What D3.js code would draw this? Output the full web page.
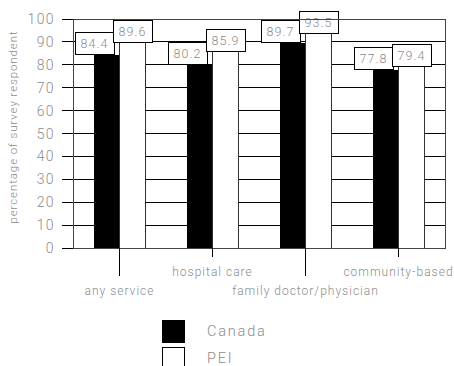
<!DOCTYPE html>
<html>
<head>
<meta charset="utf-8">
<script src="https://cdn.jsdelivr.net/npm/d3@7"></script>
<style>
  html, body { margin: 0; padding: 0; background: #fff; }
  svg { display: block; }
  text { font-family: "Roboto", "Liberation Sans", Arial, sans-serif; font-weight: 300; fill: #8c8c8c; }
</style>
</head>
<body>
<script>
// Categories and series values (percent of survey respondents)
const categories = ["any service", "hospital care", "family doctor/physician", "community-based"];
const seriesNames = ["Canada", "PEI"];
const canada = [84.4, 80.2, 89.7, 77.8];
const pei = [89.6, 85.9, 93.5, 79.4];
const yTicks = [0, 10, 20, 30, 40, 50, 60, 70, 80, 90, 100];

const W = 454, H = 366;
const m = { left: 73, right: 9, top: 19, bottom: 118 };
const iw = W - m.left - m.right, ih = H - m.top - m.bottom;

const svg = d3.select("body").append("svg").attr("width", W).attr("height", H);
const g = svg.append("g").attr("transform", `translate(${m.left},${m.top})`);

const x = d3.scaleBand().domain(categories).range([0, iw]).padding(0);
const barW = 26;
const xs = d3.scaleBand().domain(seriesNames).range([-barW, barW]);
const y = d3.scaleLinear().domain([0, 100]).range([ih, 0]);

const rows = categories.map((c, i) => ({ cat: c, values: [
  { s: "Canada", v: canada[i] }, { s: "PEI", v: pei[i] }
]}));

// horizontal gridlines with ticks extending left of the frame
g.append("g").selectAll("line").data(yTicks).join("line")
  .attr("x1", -11).attr("x2", iw)
  .attr("y1", d => y(d)).attr("y2", d => y(d))
  .attr("stroke", "#000").attr("stroke-width", 1).attr("shape-rendering", "crispEdges");

// y tick labels
g.append("g").selectAll("text").data(yTicks).join("text")
  .attr("x", -18).attr("y", d => y(d)).attr("dy", "0.36em")
  .attr("text-anchor", "end").attr("font-size", 14).attr("letter-spacing", 1.4)
  .text(d => d);

// bars
const grp = g.append("g").selectAll("g").data(rows).join("g")
  .attr("transform", d => `translate(${x(d.cat) + x.bandwidth() / 2},0)`);
grp.selectAll("rect").data(d => d.values).join("rect")
  .attr("x", d => xs(d.s)).attr("width", barW)
  .attr("y", d => y(d.v)).attr("height", d => ih - y(d.v))
  .attr("fill", d => d.s === "Canada" ? "#000" : "#fff")
  .attr("stroke", d => d.s === "Canada" ? "none" : "#333")
  .attr("stroke-width", 1).attr("shape-rendering", "crispEdges");

// frame
g.append("rect").attr("x", 0).attr("y", 0).attr("width", iw).attr("height", ih)
  .attr("fill", "none").attr("stroke", "#444").attr("stroke-width", 1)
  .attr("shape-rendering", "crispEdges");

// category ticks (staggered) and labels
const tickLen = i => i % 2 === 0 ? 28 : 9;
g.append("g").selectAll("line").data(categories).join("line")
  .attr("x1", d => x(d) + x.bandwidth() / 2).attr("x2", d => x(d) + x.bandwidth() / 2)
  .attr("y1", ih).attr("y2", (d, i) => ih + tickLen(i))
  .attr("stroke", "#000").attr("shape-rendering", "crispEdges");
g.append("g").selectAll("text").data(categories).join("text")
  .attr("x", d => x(d) + x.bandwidth() / 2)
  .attr("y", (d, i) => ih + (i % 2 === 0 ? 43 : 24)).attr("dy", "0.36em")
  .attr("text-anchor", "middle").attr("font-size", 12).attr("letter-spacing", 1.0)
  .text(d => d);

// value label boxes
const boxW = 39, boxH = 22, nudge = -12;
const lab = grp.selectAll("g.lab").data(d => d.values).join("g").attr("class", "lab")
  .attr("transform", d => {
    const cx = xs(d.s) + barW / 2 + (d.s === "Canada" ? nudge : 0);
    return `translate(${cx},${y(d.v) - boxH / 2})`;
  });
lab.append("rect").attr("x", -boxW / 2).attr("y", -boxH / 2)
  .attr("width", boxW).attr("height", boxH)
  .attr("fill", "#fff").attr("stroke", "#000").attr("stroke-width", 1)
  .attr("shape-rendering", "crispEdges");
lab.append("text").attr("text-anchor", "middle").attr("dy", "0.36em")
  .attr("font-size", 12.5).attr("letter-spacing", 1)
  .text(d => d.v.toFixed(1));

// y axis title
svg.append("text")
  .attr("transform", `translate(13,${m.top + 108}) rotate(-90)`)
  .attr("text-anchor", "middle").attr("dy", "0.36em")
  .attr("font-size", 11.5).attr("letter-spacing", 0.9)
  .text("percentage of survey respondent");

// legend
const leg = svg.append("g").attr("transform", "translate(162,320)");
const li = leg.selectAll("g").data(seriesNames).join("g")
  .attr("transform", (d, i) => `translate(0,${i * 27})`);
li.append("rect").attr("width", 22).attr("height", 22)
  .attr("fill", d => d === "Canada" ? "#000" : "#fff")
  .attr("stroke", "#000").attr("shape-rendering", "crispEdges");
li.append("text").attr("x", 45).attr("y", 11).attr("dy", "0.36em")
  .attr("font-size", 14.5).attr("letter-spacing", 1.8)
  .text(d => d);
</script>
</body>
</html>
